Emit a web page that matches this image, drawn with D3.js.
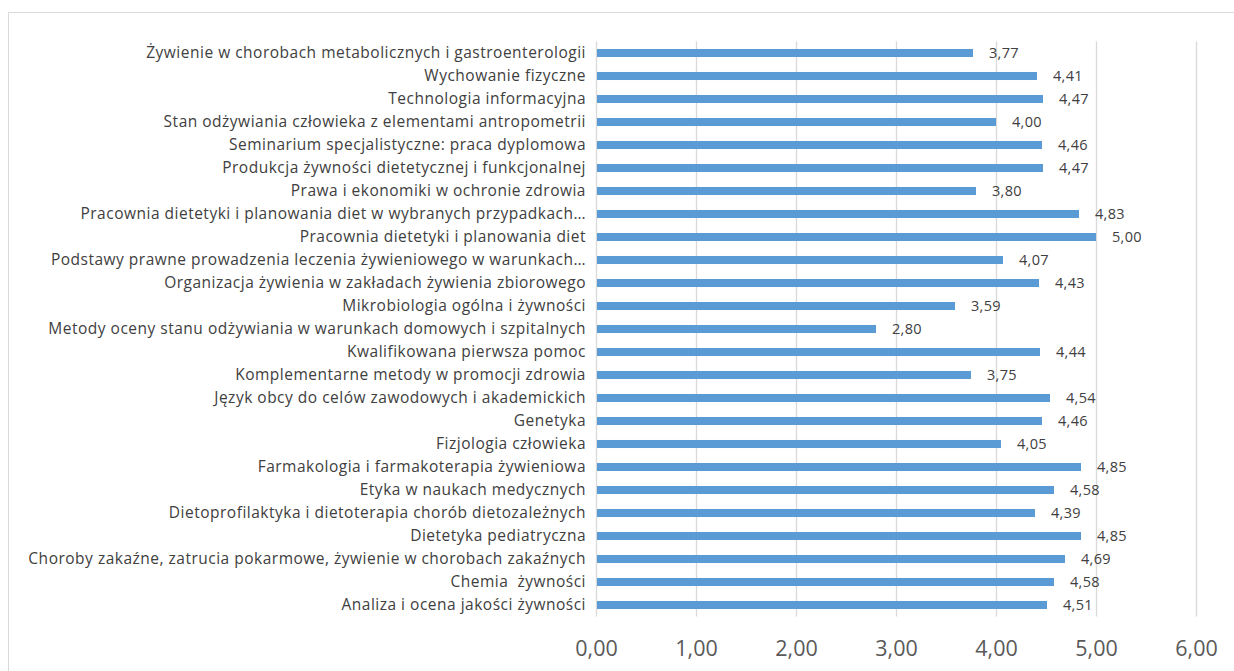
<!DOCTYPE html>
<html><head><meta charset="utf-8">
<script src="https://cdn.jsdelivr.net/npm/d3@7"></script>
<style>html,body{margin:0;padding:0;background:#fff;}svg{display:block;}</style>
</head><body><div id="chart"></div>
<script>
const categories = [
"Żywienie w chorobach metabolicznych i gastroenterologii",
"Wychowanie fizyczne",
"Technologia informacyjna",
"Stan odżywiania człowieka z elementami antropometrii",
"Seminarium specjalistyczne: praca dyplomowa",
"Produkcja żywności dietetycznej i funkcjonalnej",
"Prawa i ekonomiki w ochronie zdrowia",
"Pracownia dietetyki i planowania diet w wybranych przypadkach…",
"Pracownia dietetyki i planowania diet",
"Podstawy prawne prowadzenia leczenia żywieniowego w warunkach…",
"Organizacja żywienia w zakładach żywienia zbiorowego",
"Mikrobiologia ogólna i żywności",
"Metody oceny stanu odżywiania w warunkach domowych i szpitalnych",
"Kwalifikowana pierwsza pomoc",
"Komplementarne metody w promocji zdrowia",
"Język obcy do celów zawodowych i akademickich",
"Genetyka",
"Fizjologia człowieka",
"Farmakologia i farmakoterapia żywieniowa",
"Etyka w naukach medycznych",
"Dietoprofilaktyka i dietoterapia chorób dietozależnych",
"Dietetyka pediatryczna",
"Choroby zakaźne, zatrucia pokarmowe, żywienie w chorobach zakaźnych",
"Chemia  żywności",
"Analiza i ocena jakości żywności"
];
const values = [3.77,4.41,4.47,4.00,4.46,4.47,3.80,4.83,5.00,4.07,4.43,3.59,2.80,4.44,3.75,4.54,4.46,4.05,4.85,4.58,4.39,4.85,4.69,4.58,4.51];
const xTicks = [0,1,2,3,4,5,6];

const W = 1234, H = 671;
const svg = d3.select("#chart").append("svg").attr("width", W).attr("height", H);
const fmt = v => v.toFixed(2).replace(".", ",");
const font = "'Open Sans', sans-serif";

svg.append("rect").attr("x", 8.5).attr("y", 12.5).attr("width", W + 10).attr("height", H + 10)
  .attr("fill", "none").attr("stroke", "#d9d9d9").attr("stroke-width", 1);

const x = d3.scaleLinear().domain([0, 6]).range([596, 1196]);
const y = d3.scaleBand().domain(categories).range([41.5, 616.5]).paddingInner(0.65).paddingOuter(0.325);

const g = svg.append("g");
// grid
g.selectAll("line.grid").data(xTicks).join("line")
  .attr("x1", d => Math.round(x(d)) + 0.5).attr("x2", d => Math.round(x(d)) + 0.5)
  .attr("y1", 41.5).attr("y2", 616.5)
  .attr("stroke", "#d9d9d9").attr("stroke-width", 1.3);

// bars
g.selectAll("rect.bar").data(values).join("rect")
  .attr("x", x(0) + 1).attr("y", (d, i) => y(categories[i]))
  .attr("width", d => x(d) - x(0) - 1).attr("height", y.bandwidth())
  .attr("fill", "#5b9bd5");

// value labels
g.selectAll("text.val").data(values).join("text")
  .attr("x", d => x(d) + 16).attr("y", (d, i) => y(categories[i]) + y.bandwidth() / 2)
  .attr("dy", "0.35em").attr("font-family", font).attr("font-size", 14.5)
  .attr("letter-spacing", 0.3)
  .attr("fill", "#404040").text(d => fmt(d));

// category labels
g.selectAll("text.cat").data(categories).join("text")
  .attr("x", 586).attr("y", d => y(d) + y.bandwidth() / 2)
  .attr("dy", "0.35em").attr("text-anchor", "end")
  .attr("font-family", font).attr("font-size", 15.5).attr("letter-spacing", 0.5)
  .attr("fill", "#404040").style("white-space", "pre").text(d => d);

// x axis tick labels
const xAxis = d3.axisBottom(x).tickValues(xTicks).tickFormat(fmt).tickSize(0).tickPadding(0);
const ax = svg.append("g").attr("transform", "translate(0,641)").call(xAxis);
ax.select(".domain").remove();
ax.selectAll("text").attr("font-family", font).attr("font-size", 21.5).attr("fill", "#595959");
</script>
</body></html>
